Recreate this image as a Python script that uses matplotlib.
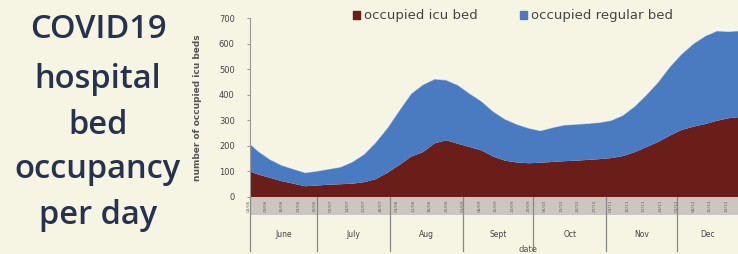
import matplotlib
matplotlib.use("Agg")
import matplotlib.pyplot as plt
from matplotlib.patches import Patch
import numpy as np

# ---- data (day index: days since 1 June) ----
days = [1, 5, 10, 15, 20, 25, 30, 35, 40, 45, 50, 55, 60, 65, 70, 75, 80, 85, 90,
        95, 100, 105, 110, 115, 120, 125, 130, 135, 140, 145, 150, 155, 160, 165,
        170, 175, 180, 185, 190, 195, 200, 205, 209]
total_beds = [213, 180, 148, 125, 110, 96, 102, 110, 118, 138, 168, 215, 272, 340,
              405, 440, 462, 458, 438, 405, 375, 335, 305, 285, 270, 260, 272, 282,
              285, 288, 292, 300, 320, 355, 400, 450, 510, 560, 600, 630, 650, 648, 650]
icu_beds = [102, 88, 75, 62, 52, 42, 45, 48, 50, 52, 58, 70, 95, 125, 158, 175, 210,
            222, 208, 195, 182, 158, 142, 135, 132, 134, 137, 140, 142, 145, 148, 152,
            160, 175, 195, 215, 240, 262, 275, 285, 298, 308, 312]
regular_beds = [t - i for t, i in zip(total_beds, icu_beds)]

month_names = ["June", "July", "Aug", "Sept", "Oct", "Nov", "Dec"]
month_starts = [1.5, 30, 61, 92, 122, 153, 183]
x_end = 209
y_ticks = [0, 100, 200, 300, 400, 500, 600, 700]
date_tick_days = list(range(1, 209, 7))

title_lines = ["COVID19", "hospital", "bed", "occupancy", "per day"]

BG = "#f6f4e3"
RED = "#6b1d19"
BLUE = "#4a7bc0"
NAVY = "#27324f"

W, H = 738, 254
fig = plt.figure(figsize=(W / 100, H / 100), dpi=100, facecolor=BG)

def fx(px):
    return px / W

def fy(py):
    return 1 - py / H

# ---- main area chart ----
ax = fig.add_axes([fx(250), fy(197), fx(738) - fx(250), fy(18) - fy(197)])
ax.set_facecolor(BG)
ax.stackplot(days, icu_beds, regular_beds, colors=[RED, BLUE],
             labels=["occupied icu bed", "occupied regular bed"], linewidth=0)
ax.plot(days, total_beds, color="white", lw=1.0, alpha=0.6)
ax.set_xlim(month_starts[0], x_end)
ax.set_ylim(0, 700)
ax.set_yticks(y_ticks)
ax.set_yticklabels([str(v) for v in y_ticks], fontsize=6, color="#444444")
ax.tick_params(axis="y", length=2, width=0.6, color="#888888", pad=9)
ax.set_xticks([])
for s in ["top", "right", "bottom"]:
    ax.spines[s].set_visible(False)
ax.spines["left"].set_color("#999999")
ax.spines["left"].set_linewidth(0.8)

# ---- grey date band ----
bax = fig.add_axes([fx(250), fy(215), fx(738) - fx(250), fy(197) - fy(215)],
                   sharex=ax)
bax.set_facecolor("#cbc7c0")
bax.set_ylim(0, 1)
bax.set_yticks([])
bax.set_xticks([])
for s in bax.spines.values():
    s.set_visible(False)
mdays = [30, 31, 31, 30, 31, 30, 31]
for d in date_tick_days:
    day = d + 1
    m = 6
    k = 0
    while day > mdays[k]:
        day -= mdays[k]
        k += 1
        m += 1
    bax.text(d, 0.5, f"{day:02d}/{m:02d}", rotation=90, fontsize=3.2,
             color="#666666", ha="center", va="center")

# ---- month row ----
max_ = fig.add_axes([fx(250), fy(251), fx(738) - fx(250), fy(215) - fy(251)],
                    sharex=ax)
max_.patch.set_alpha(0)
max_.set_ylim(0, 1)
max_.set_yticks([])
max_.set_xticks([])
for s in max_.spines.values():
    s.set_visible(False)
bounds = month_starts[1:] + [x_end]
for i, name in enumerate(month_names):
    a = month_starts[i]
    b = bounds[i]
    max_.text((a + b) / 2, 0.45, name, fontsize=5.5, color="#444444",
              ha="center", va="center")
for b in month_starts:
    max_.axvline(b, ymin=0, ymax=1.5, color="#888888", lw=0.9, clip_on=False)

fig.text(fx(528), fy(250), "date", fontsize=6, color="#555555",
         ha="center", va="center")
fig.text(fx(197), fy(108), "number of occupied icu beds", rotation=90,
         fontsize=6.5, color="#555555", ha="center", va="center",
         fontweight="bold")

# ---- legend ----
handles = [Patch(color=RED), Patch(color=BLUE)]
fig.legend(handles, ["occupied icu bed", "occupied regular bed"],
           loc="center", bbox_to_anchor=(fx(513), fy(16)), ncol=2,
           frameon=False, fontsize=9.5, handlelength=0.55, handleheight=0.55,
           handletextpad=0.3, columnspacing=3.2, labelcolor="#444444")

# ---- left title ----
ys = [30, 80, 125, 170, 215]
for line, yy in zip(title_lines, ys):
    fig.text(fx(98), fy(yy), line, fontsize=23.5, color=NAVY,
             family=["Open Sans", "DejaVu Sans"], fontweight="semibold",
             ha="center", va="center")

fig.savefig("out.png", dpi=100, facecolor=BG)
